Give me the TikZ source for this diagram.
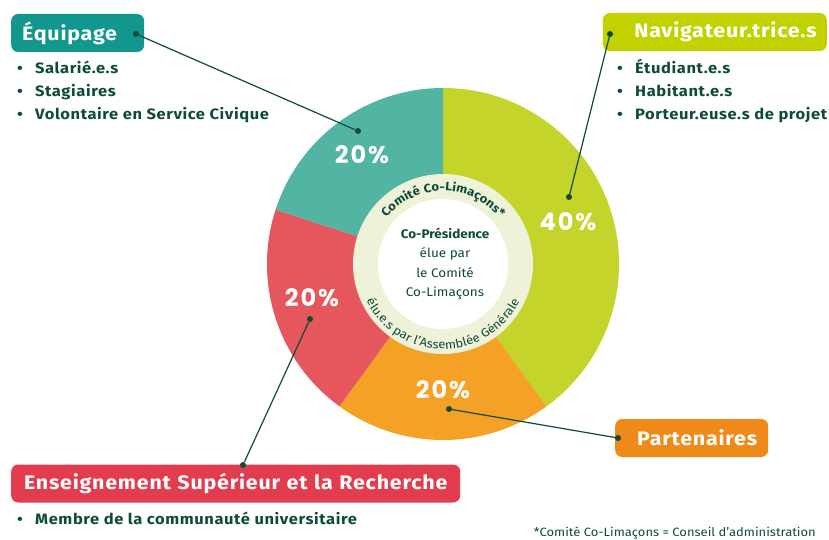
\documentclass[tikz,border=0pt]{standalone}
\usepackage{fontspec}
\setmainfont{Fira Sans}[FakeStretch=1.08]
\newfontfamily\headfont{Fira Sans}[FakeStretch=1.1, LetterSpace=4]
\newfontfamily\pctfont{Poppins}[LetterSpace=8]
\usetikzlibrary{decorations.text}

\definecolor{darkgreen}{HTML}{0F4B3B}
\definecolor{tealseg}{HTML}{52B4A2}
\definecolor{tealbox}{HTML}{12978F}
\definecolor{limeseg}{HTML}{C4D42A}
\definecolor{limebox}{HTML}{C2D200}
\definecolor{redseg}{HTML}{E5575C}
\definecolor{redbox}{HTML}{E23D4F}
\definecolor{orangeseg}{HTML}{F4A125}
\definecolor{orangebox}{HTML}{EF8A1A}
\definecolor{ringfill}{HTML}{EEF2D8}

\begin{document}
\begin{tikzpicture}[x=1pt, y=1pt,
    titlebox/.style={rounded corners=7pt, minimum height=38pt, inner ysep=0pt, text=white, font=\headfont\fontsize{19.5}{24}\selectfont\bfseries},
    listitem/.style={anchor=base west, inner sep=0pt, text=darkgreen, font=\headfont\fontsize{15}{18}\selectfont\bfseries},
    pct/.style={text=white, font=\pctfont\fontsize{24}{24}\selectfont\bfseries},
    enddot/.style={circle, fill=darkgreen, inner sep=0pt, minimum size=6pt},
    callout/.style={darkgreen, line width=1.2pt}]

        % Page
        \fill[white] (0,0) rectangle (829,539);
        \useasboundingbox (0,0) rectangle (829,539);
        \coordinate (c) at (443,275);

        % Pie sectors
        \fill[limeseg] (c) -- ++(90:176) arc[start angle=90, end angle=-54, radius=176] -- cycle;
        \fill[orangeseg] (c) -- ++(-54:176) arc[start angle=-54, end angle=-126, radius=176] -- cycle;
        \fill[redseg] (c) -- ++(-126:176) arc[start angle=-126, end angle=-198, radius=176] -- cycle;
        \fill[tealseg] (c) -- ++(162:176) arc[start angle=162, end angle=90, radius=176] -- cycle;

        % Comite ring and centre
        \fill[ringfill] (c) circle (90);
        \fill[white] (c) circle (65);
        \path[decorate, decoration={text along path, text align=center, text color=darkgreen,
            text={|\headfont\fontsize{12}{12}\selectfont\bfseries|Comité Co-Limaçons*}}]
            ([shift={(150:73)}]c) arc[start angle=150, end angle=30, radius=73];
        \path[decorate, decoration={text along path, text align=center, text color=darkgreen,
            text={|\fontsize{12}{12}\selectfont|élu.e.s par l'Assemblée Générale}}]
            ([shift={(200:85)}]c) arc[start angle=200, end angle=340, radius=85];
        \node[align=center, text=darkgreen, font=\fontsize{12.5}{19.5}\selectfont] (presidence) at (445,275)
            {\textbf{Co-Présidence}\\élue par\\le Comité\\Co-Limaçons};

        % Percentages
        \node[pct] (pctequipage) at (362,384) {20\%};
        \node[pct] (pctnavig) at (568,317) {40\%};
        \node[pct] (pctesr) at (312,241) {20\%};
        \node[pct] (pctpartner) at (443,149) {20\%};

        % Equipage
        \node[titlebox, fill=tealbox, anchor=west, inner xsep=11pt, text width=111pt, align=left] (equipage) at (11,506) {Équipage};
        \node[listitem] (salaries) at (17,465) {\makebox[18pt][l]{•}Salarié.e.s};
        \node[listitem] (stagiaires) at (17,442) {\makebox[18pt][l]{•}Stagiaires};
        \node[listitem] (volontaire) at (17,419) {\makebox[18pt][l]{•}Volontaire en Service Civique};

        % Navigateur.trice.s
        \node[titlebox, fill=limebox, anchor=east, inner xsep=10pt, text width=204pt, align=right] (navig) at (827,507) {Navigateur.trice.s};
        \node[listitem] (etudiants) at (617,465) {\makebox[18pt][l]{•}Étudiant.e.s};
        \node[listitem] (habitants) at (617,442) {\makebox[18pt][l]{•}Habitant.e.s};
        \node[listitem] (porteurs) at (617,419) {\makebox[18pt][l]{•}Porteur.euse.s de projet};

        % Enseignement Superieur et la Recherche
        \node[titlebox, fill=redbox, anchor=west, inner xsep=11pt, text width=427pt, align=center] (esr) at (11,55.5) {Enseignement Supérieur et la Recherche};
        \node[listitem] (membre) at (17,15) {\makebox[18pt][l]{•}Membre de la communauté universitaire};

        % Partenaires
        \node[titlebox, fill=orangebox, anchor=west, inner xsep=11pt, text width=131pt, align=right] (partner) at (615,101) {Partenaires};

        % Footnote
        \node[anchor=base east, inner sep=0pt, text=darkgreen, font=\fontsize{12}{12}\selectfont] (note) at (816,3)
            {*Comité Co-Limaçons = Conseil d'administration};

        % Callouts
        \node[enddot] (tealdot) at (358,408) {};
        \node[enddot] (equipdot) at (136,505) {};
        \node[enddot] (limedot) at (569,342) {};
        \node[enddot] (navigdot) at (610,505) {};
        \node[enddot] (reddot) at (310,220) {};
        \node[enddot] (esrdot) at (243,74) {};
        \node[enddot] (orangedot) at (449,130) {};
        \node[enddot] (partnerdot) at (618,101) {};
        \draw[callout] (tealdot) -- (equipdot);
        \draw[callout] (limedot) -- (navigdot);
        \draw[callout] (reddot) -- (esrdot);
        \draw[callout] (orangedot) -- (partnerdot);

    \end{tikzpicture}
\end{document}
